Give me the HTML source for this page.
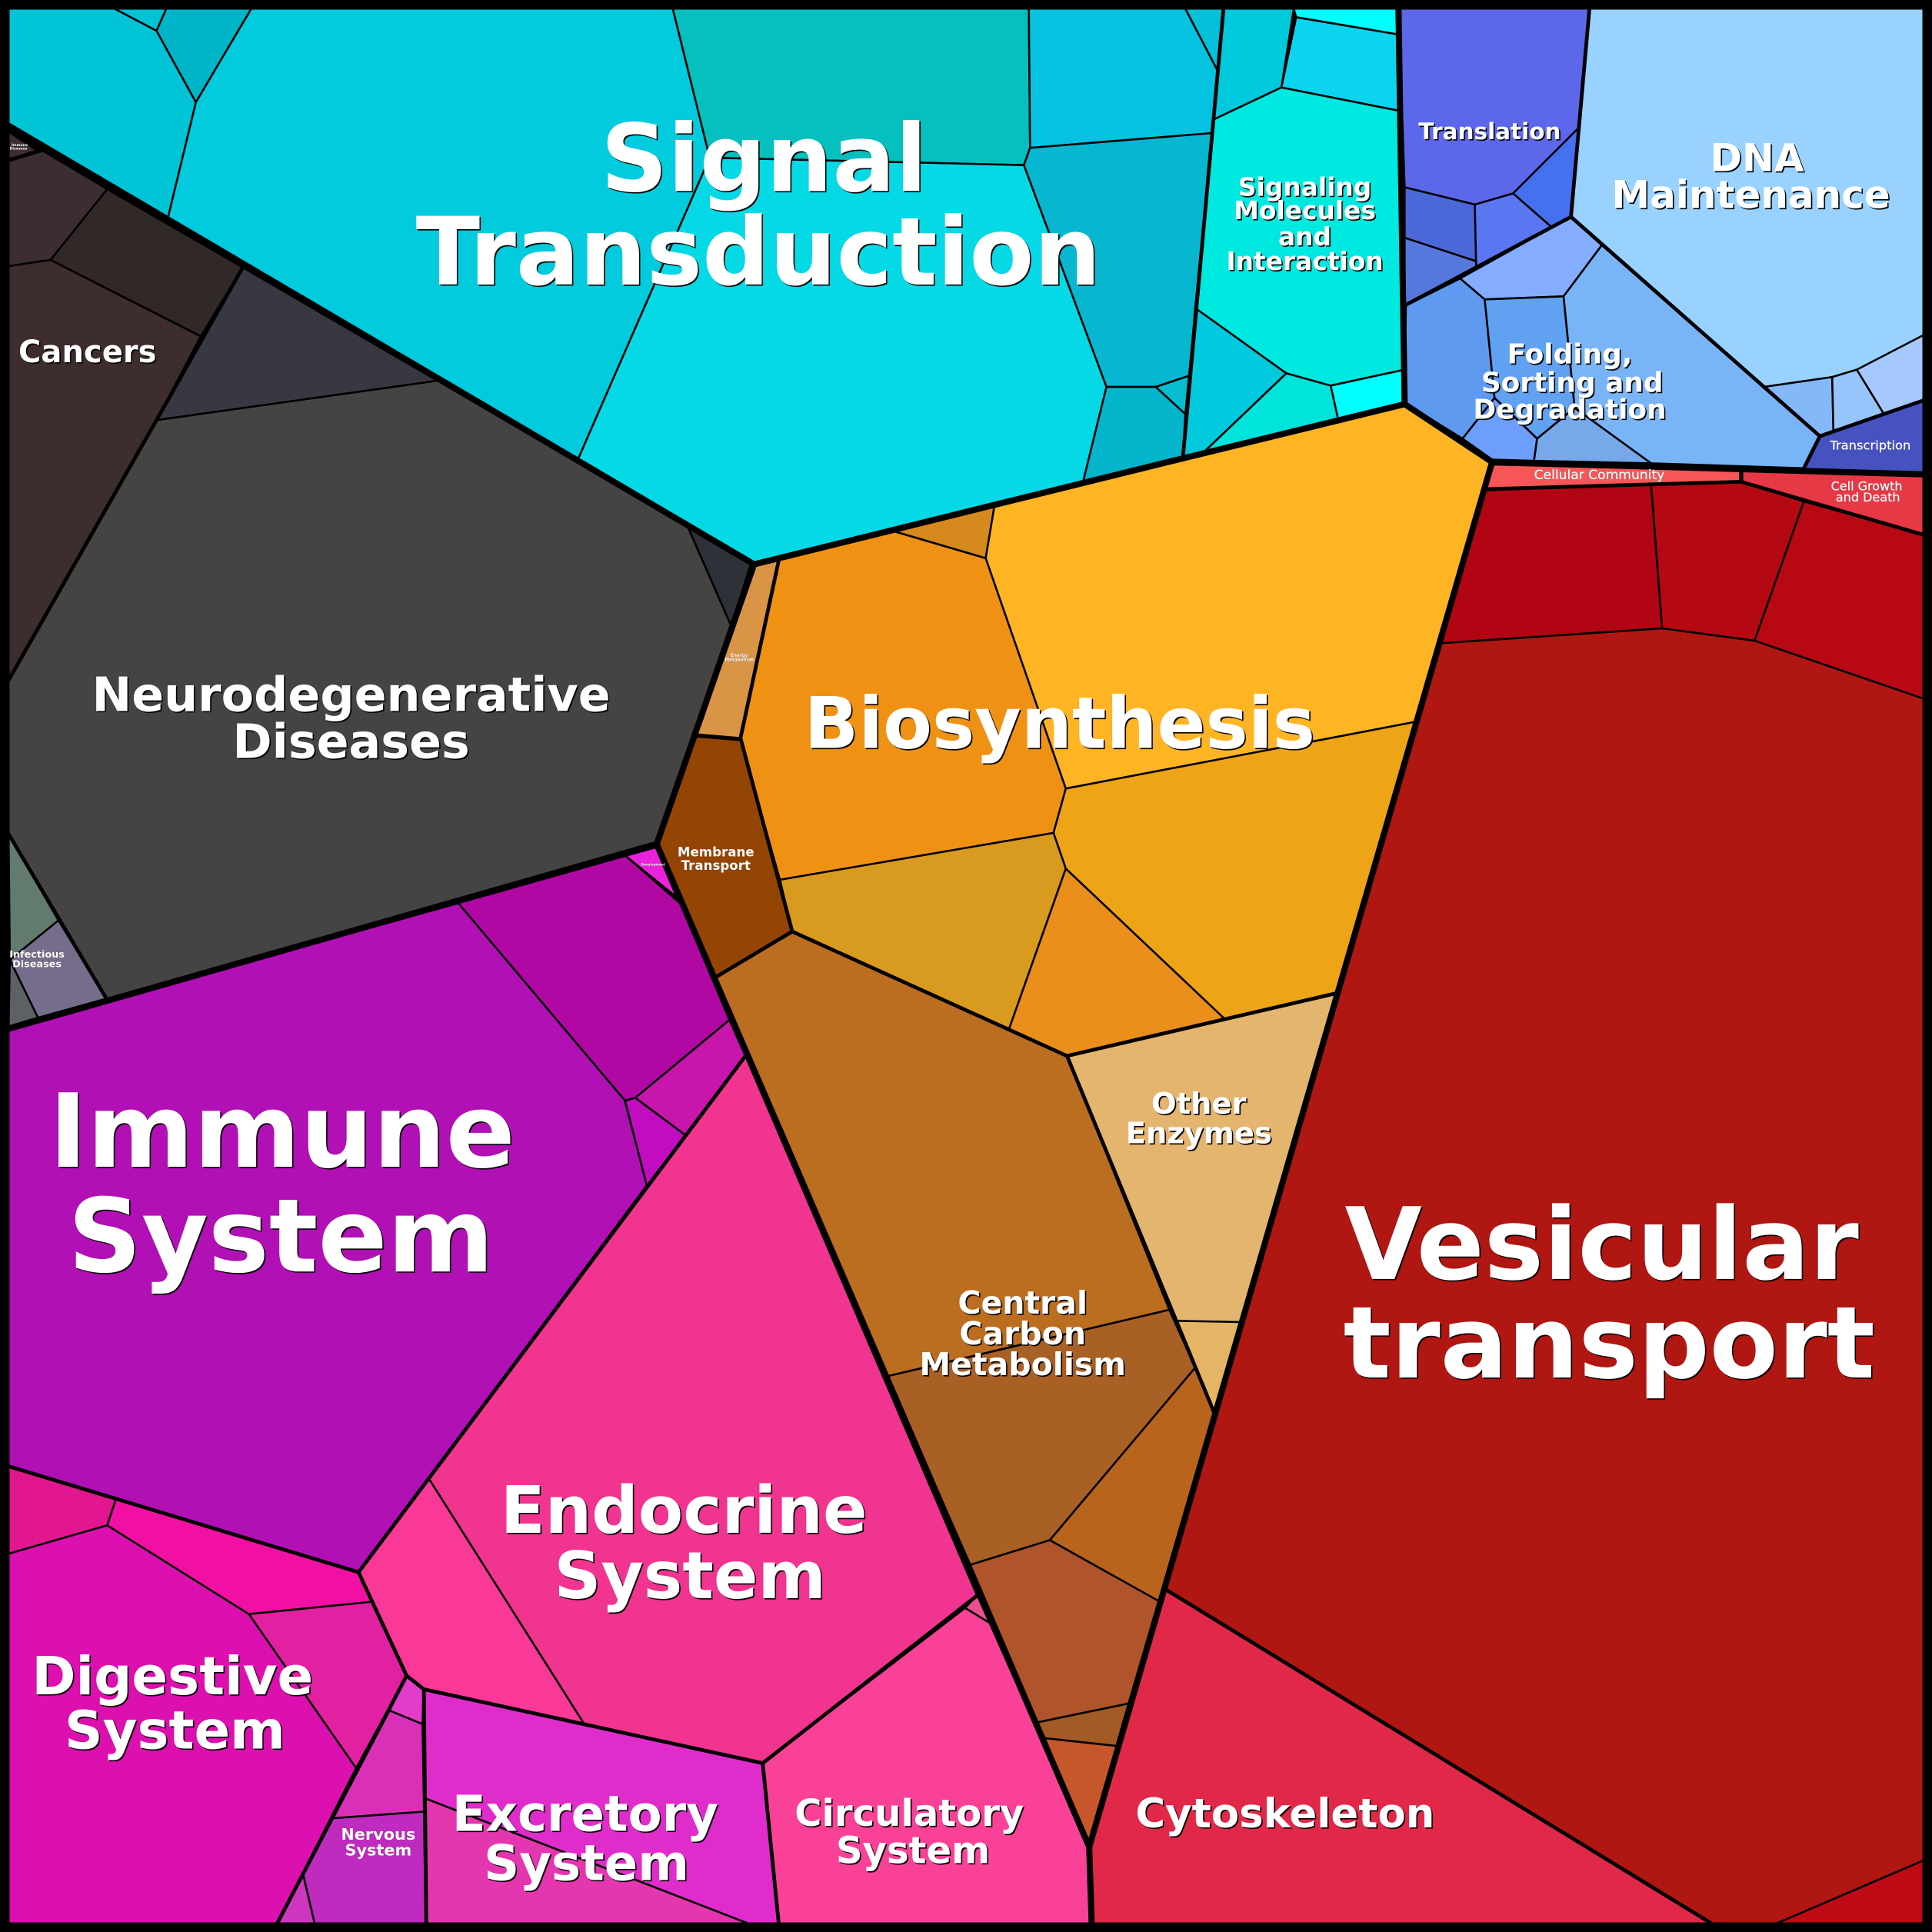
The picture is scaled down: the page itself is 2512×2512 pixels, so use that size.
<!DOCTYPE html>
<html><head><meta charset="utf-8"><style>
html,body{margin:0;padding:0;background:#000}
svg{display:block}
polygon{stroke:#000;stroke-width:1.6;stroke-linejoin:round}
polyline{fill:none;stroke:#000;stroke-linejoin:round;stroke-linecap:round}
.m polyline{stroke-width:3}
.k polyline{stroke-width:5}
text{font-family:"DejaVu Sans","Liberation Sans",sans-serif;font-weight:bold;fill:#fff;text-anchor:middle}
.s0{filter:drop-shadow(.5px .5px 0 #000)}
.s1{filter:drop-shadow(1.1px 1.1px 0 #000)}
.s2{filter:drop-shadow(1.5px 1.5px 0 #000)}
.r text{font-weight:normal;stroke:#fff;stroke-width:.18}
</style></head><body>
<svg xmlns="http://www.w3.org/2000/svg" width="2512" height="2512" viewBox="0 0 1568 1568">
<rect width="1568" height="1568" fill="#000"/>
<!-- Signal Transduction -->
<polygon fill="#01c4d7" points="7,7 93,7 127,25 159,83 136,178 7,102"/>
<polygon fill="#00c4d4" points="93,7 135,7 127,25"/>
<polygon fill="#00b5c8" points="135,7 204,7 159,83 127,25"/>
<polygon fill="#01cbdc" points="204,7 546,7 576,128 469,373 136,178 159,83"/>
<polygon fill="#06bfbf" points="546,7 835,7 836,120 831,134 576,128"/>
<polygon fill="#06d9e6" points="576,128 831,134 898,314 879,391 612,458 469,373"/>
<polygon fill="#05c3e0" points="835,7 962,7 988,57 984,108 836,120"/>
<polygon fill="#04c0d8" points="962,7 993,7 988,57"/>
<polygon fill="#07b7d0" points="836,120 984,108 965,305 938,314 898,314 831,134"/>
<polygon fill="#05b5cb" points="898,314 938,314 962,336 960,372 879,391"/>
<polygon fill="#06bdd0" points="938,314 965,305 962,336"/>
<!-- Signaling Molecules -->
<polygon fill="#00c9dc" points="993,7 1050,7 1040,71 985,97"/>
<polygon fill="#00ffff" points="1050,7 1135,7 1135,28 1052,14"/>
<polygon fill="#0cd4ef" points="1052,14 1135,28 1136,90 1040,71"/>
<polygon fill="#00e9e0" points="985,97 1040,71 1136,90 1140,300 1080,313 1044,303 970,250"/>
<polygon fill="#02cade" points="970,250 1044,303 977,367 960,372"/>
<polygon fill="#00e4dc" points="1044,303 1080,313 1086,340 977,367"/>
<polygon fill="#00ffff" points="1080,313 1140,300 1140,328 1086,340"/>
<!-- Translation -->
<polygon fill="#5c67ea" points="1135,7 1290,7 1282,103 1228,157 1197,166 1140,152"/>
<polygon fill="#4570f0" points="1282,103 1275,176 1260,185 1228,157"/>
<polygon fill="#4c67d8" points="1140,152 1197,166 1198,212 1140,193"/>
<polygon fill="#5a76f0" points="1197,166 1228,157 1260,185 1198,217"/>
<polygon fill="#5678dd" points="1140,193 1198,212 1198,217 1140,248"/>
<!-- DNA -->
<polygon fill="#99d2ff" points="1290,7 1561,7 1561,273 1507,300 1487,306 1432,314 1300,199 1275,176"/>
<polygon fill="#84b8f8" points="1432,314 1487,306 1488,351 1477,354"/>
<polygon fill="#96c5fc" points="1487,306 1507,300 1529,336 1488,351"/>
<polygon fill="#a5c9ff" points="1507,300 1561,272 1561,325 1529,336"/>
<polygon fill="#4652c0" points="1477,354 1561,325 1561,385 1464,381"/>
<!-- Folding -->
<polygon fill="#85adff" points="1185,226 1275,176 1300,199 1269,240.5 1205,243"/>
<polygon fill="#5f9af0" points="1141,248 1185,226 1205,243 1213,323 1187,356 1140,327"/>
<polygon fill="#60a1f2" points="1205,243 1269,240.5 1278,331 1247.5,356 1213,323"/>
<polygon fill="#79b4f6" points="1300,199 1477,354 1464,380 1340,376 1278,331 1269,240.5"/>
<polygon fill="#6d9efb" points="1213,323 1247.5,356 1245,374 1211,373 1187,356"/>
<polygon fill="#76a8ea" points="1278,331 1340,376 1245,374 1247.5,356"/>
<!-- Cellular etc -->
<polygon fill="#f65658" points="1211,377 1413,382 1413,391 1206,397"/>
<polygon fill="#e73845" points="1414,382 1561,386 1561,434 1414,391"/>
<polygon fill="#b10513" points="1205,398 1340,393 1349,510 1170,522"/>
<polygon fill="#b40913" points="1340,393 1413,391 1464,407 1424,520 1349,510"/>
<polygon fill="#b70814" points="1464,407 1561,434 1561,567 1424,520"/>
<polygon fill="#b01612" points="1170,522 1349,510 1424,520 1561,567 1561,1510 1442,1561 1389,1561 946,1290"/>
<polygon fill="#bd0a14" points="1442,1561 1561,1510 1561,1561"/>
<polygon fill="#e22848" points="946,1290 1389,1561 886,1561 884,1499"/>
<!-- Diseases -->
<polygon fill="#3c2c33" points="7,107 30,122 7,130"/>
<polygon fill="#3c2c34" points="7,130 34,122 87,153.5 41,211 7,216"/>
<polygon fill="#312828" points="87,153.5 197,217 163,273 41,211"/>
<polygon fill="#3e2d2d" points="7,216 41,211 163,273 127,341 7,552"/>
<polygon fill="#383842" points="197,217 355,309 127,341 163,273"/>
<polygon fill="#454443" points="127,341 355,309 558,427 593,507 533,685 87,811 7,677 7,552"/>
<polygon fill="#2e3138" points="558,427 612,458 593,507"/>
<polygon fill="#637a6e" points="7,677 47.4,747 8,779"/>
<polygon fill="#766d8c" points="47.4,747 86.4,810.5 30.8,826 8,779"/>
<polygon fill="#5c6166" points="8,779 30.8,826 7,833"/>
<!-- Energy + Membrane -->
<polygon fill="#d99545" points="632,455 601,599 565,596 609,459"/>
<polygon fill="#944403" points="565,597 601,600 643,756 581,793 533,685"/>
<!-- Biosynthesis -->
<polygon fill="#ef9213" points="632,453 725,431 800,453 865,640 855,676 633,714 601,600"/>
<polygon fill="#d68a1d" points="725,431 807,411 800,453"/>
<polygon fill="#ffb424" points="807,411 960,372 1140,328 1211,375 1148,586 865,640 800,453"/>
<polygon fill="#eda416" points="865,640 1148,586 1085,806 994,827 865,705 855,676"/>
<polygon fill="#d99a20" points="633,714 855,676 865,705 819,835 643,756"/>
<polygon fill="#ea8f1c" points="865,705 994,827 866,857 819,835"/>
<!-- Central Carbon -->
<polygon fill="#bb6d20" points="581,793 643,756 866,857 949,1063 720,1117"/>
<polygon fill="#a86025" points="720,1117 949,1063 970,1110 852,1250 787.5,1270"/>
<polygon fill="#b8641c" points="970,1110 986,1148 940.4,1299.4 852,1250"/>
<polygon fill="#b0542c" points="787.5,1270 852,1250 940.4,1299.4 915.9,1382.6 842.2,1397.8"/>
<polygon fill="#a25a26" points="842.2,1397.8 915.9,1382.6 906.1,1417 847.9,1410.7"/>
<polygon fill="#c5572b" points="847.9,1410.7 906.1,1417 884,1499"/>
<polygon fill="#e4b56f" points="866,857 1085,806 1007,1073 955,1072"/>
<polygon fill="#e4b564" points="955,1072 1007,1073 986,1148"/>
<!-- Immune -->
<polygon fill="#b110b4" points="7,835 372,733 507,893 525,962 291,1276 7,1190"/>
<polygon fill="#b108a4" points="372,733 507.7,694.6 552.4,733.5 592,827.8 515.6,891 507.3,893.3"/>
<polygon fill="#ea22dc" points="507.7,694.6 532.3,687.7 549.3,728.3"/>
<polygon fill="#c816ad" points="592,827.8 604.9,856.9 556.2,921.2 515.6,891"/>
<polygon fill="#c10cc0" points="507.3,893.3 515.6,891 556.2,921.2 525,962.4"/>
<!-- Endocrine -->
<polygon fill="#f03490" points="605,857 793,1295 619,1431 474,1399 348,1200"/>
<polygon fill="#f93898" points="348,1200 474,1399 344,1371 330,1360 291,1276"/>
<polygon fill="#f94297" points="619,1431 783.3,1305 803.1,1317 884,1499 886,1561 632,1561"/>
<polygon fill="#ea5090" points="783.3,1305 793.1,1294.6 803.1,1317"/>
<polygon fill="#e02ccb" points="344,1371 619,1431 632,1561 607,1561 345.4,1459.7"/>
<polygon fill="#e436af" points="345.4,1459.7 607,1561 346,1561"/>
<!-- Digestive -->
<polygon fill="#e2168e" points="7,1190 94,1217 87,1238 7,1261"/>
<polygon fill="#f210a4" points="94,1217 291,1276 302,1300 202,1310 87,1238"/>
<polygon fill="#e220a2" points="202,1310 302,1300 330,1360 289,1435"/>
<polygon fill="#dc10ae" points="7,1261 87,1238 202,1310 289,1435 225,1561 7,1561"/>
<!-- Nervous -->
<polygon fill="#e33cc8" points="329.8,1359.8 343.7,1371.2 342.9,1399.3 316.2,1388.3"/>
<polygon fill="#da30b8" points="316.2,1388.3 342.9,1399.3 344.1,1470.3 270,1475.7"/>
<polygon fill="#bf2abf" points="270,1475.7 344.1,1470.3 345.4,1561 255.3,1561 245.9,1521"/>
<polygon fill="#cf36c0" points="245.9,1521 255.3,1561 224.7,1561"/>
<!-- medium borders -->
<g class="m">
<polyline points="993,7 960,372"/>
<polyline points="1140,248 1275,176 1477,354 1464,380"/>
<polyline points="1290,7 1275,176"/>
<polyline points="1477,354 1561,325"/>
<polyline points="632,455 601,599 643,756 581,793"/>
<polyline points="565,597 601,600"/>
<polyline points="643,756 866,857 986,1148"/>
<polyline points="866,857 1085,806"/>
<polyline points="1205,397 1413,391 1561,434"/>
<polyline points="1413,383 1413,391"/>
<polyline points="946,1290 1389,1561"/>
<polyline points="605,857 291,1276 7,1190"/>
<polyline points="291,1276 330,1360 344,1371 619,1431 793,1295"/>
<polyline points="619,1431 632,1561"/>
<polyline points="344,1371 346,1561"/>
<polyline points="330,1360 225,1561"/>
<polyline points="7,552 127,341 197,217"/>
<polyline points="7,677 86.4,810.5"/>
<polyline points="7,130 34,122"/>
</g>
<!-- thick borders -->
<g class="k">
<polyline points="7,102 612,458 960,372 1140,328 1211,375 884,1499 886,1561"/>
<polyline points="612,458 533,685 7,835"/>
<polyline points="533,685 579,792 884,1499"/>
<polyline points="1211,375 1561,385"/>
<polyline points="1140,328 1135,7"/>
</g>
<rect x="3.75" y="3.75" width="1560.5" height="1560.5" fill="none" stroke="#000" stroke-width="7.5"/>
<!-- labels -->
<g class="s2">
<text x="620" y="155" font-size="75.5">Signal</text>
<text x="615.5" y="231" font-size="76.3">Transduction</text>
<text x="229" y="947" font-size="83">Immune</text>
<text x="228" y="1032" font-size="83">System</text>
<text x="1300" y="1038" font-size="81">Vesicular</text>
<text x="1306" y="1118" font-size="81">transport</text>
<text x="860" y="607" font-size="58">Biosynthesis</text>
<text x="555" y="1244" font-size="53">Endocrine</text>
<text x="560" y="1297" font-size="53">System</text>
</g>
<g class="s1">
<text x="285" y="577" font-size="38.6">Neurodegenerative</text>
<text x="285" y="615" font-size="38.6">Diseases</text>
<text x="140" y="1375" font-size="43">Digestive</text>
<text x="142" y="1419" font-size="43">System</text>
<text x="475" y="1486" font-size="40">Excretory</text>
<text x="476" y="1526" font-size="40">System</text>
<text x="738" y="1482" font-size="30">Circulatory</text>
<text x="741" y="1512" font-size="30">System</text>
<text x="1043" y="1483" font-size="33">Cytoskeleton</text>
<text x="830" y="1066" font-size="25.6">Central</text>
<text x="830" y="1091" font-size="25.6">Carbon</text>
<text x="830" y="1116" font-size="25.6">Metabolism</text>
<text x="973" y="904" font-size="24">Other</text>
<text x="973" y="928" font-size="24">Enzymes</text>
<text x="1426" y="139" font-size="31.2">DNA</text>
<text x="1421" y="169" font-size="31.2">Maintenance</text>
<text x="1059" y="159" font-size="20.5">Signaling</text>
<text x="1059" y="178" font-size="20.5">Molecules</text>
<text x="1059" y="199" font-size="20.5">and</text>
<text x="1059" y="219" font-size="20.5">Interaction</text>
<text x="1274" y="295" font-size="22.4">Folding,</text>
<text x="1276" y="318" font-size="22.4">Sorting and</text>
<text x="1274" y="340" font-size="22.4">Degradation</text>
<text x="1209" y="113" font-size="18.4">Translation</text>
<text x="71" y="294" font-size="25">Cancers</text>
</g>
<g class="s0">
<text x="581" y="695" font-size="10.4">Membrane</text>
<text x="581" y="706" font-size="10.4">Transport</text>
<text x="307" y="1493" font-size="13">Nervous</text>
<text x="307" y="1506" font-size="13">System</text>
<text x="30" y="777" font-size="8">Infectious</text>
<text x="30" y="785" font-size="8">Diseases</text>
<text x="600" y="533" font-size="3.6">Energy</text>
<text x="600" y="536.5" font-size="3.6">Metabolism</text>
<text x="16" y="118.5" font-size="2.9">Immune</text>
<text x="15" y="121.5" font-size="2.9">Diseases</text>
<text x="530" y="702.5" font-size="2.6">Development</text>
</g>
<g class="s0 r">
<text x="1518" y="365" font-size="10.2">Transcription</text>
<text x="1298" y="389" font-size="10.7">Cellular Community</text>
<text x="1515" y="398" font-size="10">Cell Growth</text>
<text x="1516" y="407" font-size="10">and Death</text>
</g>
</svg>
</body></html>
